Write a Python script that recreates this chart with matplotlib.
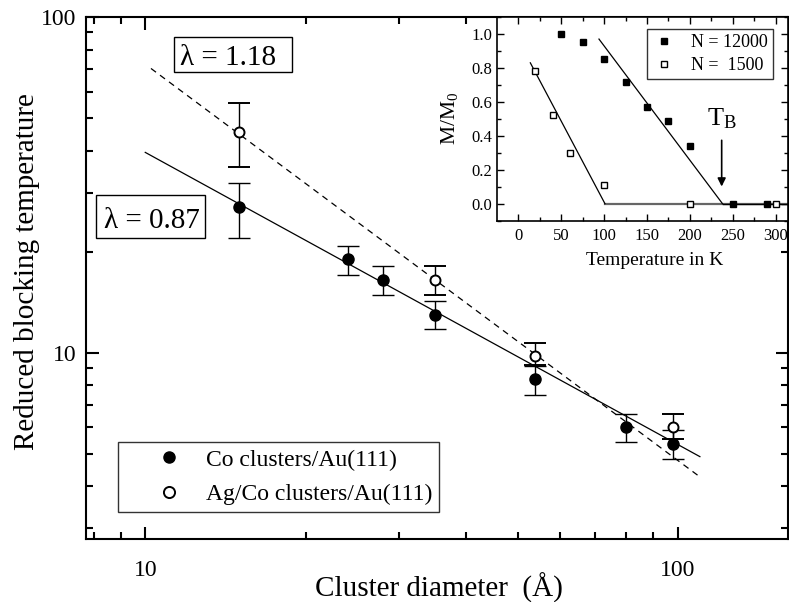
import numpy as np
import matplotlib
matplotlib.use("Agg")
import matplotlib.pyplot as plt
from matplotlib.patches import Rectangle
from matplotlib.ticker import LogLocator, NullFormatter, FixedLocator, MultipleLocator, FuncFormatter

plt.rcParams['font.family'] = ['Liberation Serif', 'DejaVu Serif']
plt.rcParams['mathtext.fontset'] = 'custom'
plt.rcParams['mathtext.rm'] = 'Liberation Serif'
plt.rcParams['mathtext.it'] = 'Liberation Serif:italic'

# ---- main data ----
co_d = [15, 24, 28, 35, 54, 80, 98]
co_t = [27.1, 19.0, 16.5, 13.0, 8.35, 6.0, 5.37]
co_hi = [32.0, 20.8, 18.1, 14.26, 9.15, 6.58, 5.88]
co_lo = [22.0, 17.0, 14.86, 11.74, 7.48, 5.41, 4.82]

ag_d = [15, 35, 54, 98]
ag_t = [45.5, 16.5, 9.78, 6.0]
ag_hi = [55.6, 18.1, 10.7, 6.58]
ag_lo = [35.7, 14.86, 9.2, 5.55]

fit_co = dict(amp=293.0, lam=0.87, xmin=10.0, xmax=110.0)
fit_ag = dict(amp=1095.0, lam=1.18, xmin=10.25, xmax=110.0)

# ---- inset data ----
t12000 = [50, 75, 100, 125, 150, 175, 200, 250, 290]
m12000 = [1.0, 0.95, 0.85, 0.72, 0.57, 0.49, 0.34, 0.0, 0.0]
t1500 = [20, 40, 60, 100, 200, 300]
m1500 = [0.78, 0.52, 0.30, 0.11, 0.0, 0.0]
line1500_t = [14, 101]
line1500_m = [0.83, 0.0]
base1500_t = [101, 330]
line12000_t = [94, 238]
line12000_m = [0.97, 0.0]
base12000_t = [238, 330]

fig = plt.figure(figsize=(7.89, 6.02), dpi=100)
ax = fig.add_axes([86/789, 63/602, 702/789, 522/602])
ax.set_xscale('log')
ax.set_yscale('log')
ax.set_xlim(7.74, 161)
ax.set_ylim(2.79, 100)

xs = np.linspace(fit_co['xmin'], fit_co['xmax'], 50)
ax.plot(xs, fit_co['amp'] * xs ** (-fit_co['lam']), color='black', lw=0.9)
xs2 = np.linspace(fit_ag['xmin'], fit_ag['xmax'], 50)
ax.plot(xs2, fit_ag['amp'] * xs2 ** (-fit_ag['lam']), color='black', lw=0.9, dashes=(5, 4))

co_err = [np.array(co_t) - np.array(co_lo), np.array(co_hi) - np.array(co_t)]
ag_err = [np.array(ag_t) - np.array(ag_lo), np.array(ag_hi) - np.array(ag_t)]
ax.errorbar(co_d, co_t, yerr=co_err, fmt='o', color='black', mfc='black', mec='black',
            ms=8, capsize=8, elinewidth=1, capthick=1, label='Co clusters/Au(111)', zorder=3)
ax.errorbar(ag_d, ag_t, yerr=ag_err, fmt='o', color='black', mfc='white', mec='black',
            ms=7.2, mew=1.4, capsize=8, elinewidth=1, capthick=1, label='Ag/Co clusters/Au(111)', zorder=4)

ax.xaxis.set_major_locator(FixedLocator([10, 100]))
ax.xaxis.set_minor_locator(LogLocator(base=10, subs=np.arange(2, 10)))
ax.xaxis.set_minor_formatter(NullFormatter())
ax.xaxis.set_major_formatter(FuncFormatter(lambda v, p: '%d' % v))
ax.yaxis.set_major_locator(FixedLocator([10, 100]))
ax.yaxis.set_minor_locator(LogLocator(base=10, subs=np.arange(2, 10)))
ax.yaxis.set_minor_formatter(NullFormatter())
ax.yaxis.set_major_formatter(FuncFormatter(lambda v, p: '%d' % v))
ax.tick_params(which='both', direction='in', top=True, right=True, width=1.5, labelsize=17)
ax.tick_params(which='major', length=9)
ax.tick_params(which='minor', length=5)
ax.tick_params(axis='x', pad=15)
ax.tick_params(axis='y', pad=7)
for s in ax.spines.values():
    s.set_linewidth(1.5)

ax.set_xlabel('Cluster diameter  (Å)', fontsize=21)
ax.xaxis.label.set_va('baseline')
ax.xaxis.set_label_coords(0.503, (539 - 597) / 522)
ax.set_ylabel('Reduced blocking temperature', fontsize=21)
ax.yaxis.set_label_coords((40 - 86) / 702, (539 - 271.5) / 522)

# lambda labels with boxes
for (bx, by, bw, bh) in [((174 - 86) / 702, (539 - 72) / 522, 118 / 702, 35 / 522),
                         ((96 - 86) / 702, (539 - 238) / 522, 109 / 702, 43 / 522)]:
    ax.add_patch(Rectangle((bx, by), bw, bh, transform=ax.transAxes, fc='white',
                           ec='black', lw=1, zorder=5))
ax.text((228.5 - 86) / 702, (539 - 65) / 522, 'λ = 1.18', transform=ax.transAxes,
        fontsize=21, ha='center', va='baseline', zorder=6)
ax.text((152 - 86) / 702, (539 - 228) / 522, 'λ = 0.87', transform=ax.transAxes,
        fontsize=21, ha='center', va='baseline', zorder=6)

h, l = ax.get_legend_handles_labels()
h = [hh[0] for hh in h]
leg = ax.legend(h, l, loc='lower left', bbox_to_anchor=(0.0456, 0.0511), borderaxespad=0,
                fontsize=17, frameon=True, fancybox=False, edgecolor='black',
                handletextpad=-0.28, borderpad=0.3, labelspacing=0.55, handlelength=3.7)
leg.get_frame().set_linewidth(1)
for lh in leg.legend_handles:
    lh.set_markersize(8)

# ---- inset ----
ins = fig.add_axes([497.3/789, (602-220.7)/602, (788-497.3)/789, 203.7/602])
ins.set_xlim(-24.5, 314.3)
ins.set_ylim(-0.1, 1.1)
ins.plot(base1500_t, [0, 0], color='#666666', lw=1.6)
ins.plot(base12000_t, [0, 0], color='black', lw=1)
ins.plot(line1500_t, line1500_m, color='black', lw=0.9)
ins.plot(line12000_t, line12000_m, color='black', lw=0.9)
ins.plot(t12000, m12000, 's', color='black', ms=4.8, label='N = 12000', zorder=5)
ins.plot(t1500, m1500, 's', mfc='white', mec='black', mew=1, ms=4.8, label='N =  1500', zorder=5)
ins.annotate('', xy=(237, 0.085), xytext=(237, 0.39),
             arrowprops=dict(arrowstyle='-|>', color='black', lw=1.2, mutation_scale=12))
ins.text(237, 0.46, r'T$_\mathrm{B}$', fontsize=19, ha='center', va='baseline')

ins.xaxis.set_major_locator(MultipleLocator(50))
ins.xaxis.set_minor_locator(MultipleLocator(25))
ins.yaxis.set_major_locator(MultipleLocator(0.2))
ins.yaxis.set_minor_locator(MultipleLocator(0.1))
ins.yaxis.set_major_formatter(FuncFormatter(lambda v, p: '%.1f' % v))
ins.tick_params(which='both', direction='in', top=True, right=True, labelsize=12, width=1)
ins.tick_params(which='major', length=5)
ins.tick_params(which='minor', length=3)
ins.tick_params(axis='x', pad=5)
ins.set_xlabel('Temperature in K', fontsize=14)
ins.xaxis.set_label_coords((654.7 - 497.3) / 290.7, (220.7 - 252) / 203.7)
ins.set_ylabel(r'M/M$_0$', fontsize=15.5)
ins.yaxis.set_label_coords((460 - 497.3) / 290.7, (220.7 - 118) / 203.7)
for s in ins.spines.values():
    s.set_linewidth(1.2)

ileg = ins.legend(loc='upper right', bbox_to_anchor=(0.948, 0.941), borderaxespad=0, fontsize=13,
                  frameon=True, fancybox=False, edgecolor='black', handletextpad=0.86,
                  borderpad=0.3, labelspacing=0.3, handlelength=1.28)
ileg.get_frame().set_linewidth(1)

fig.savefig('out.png', dpi=100)
